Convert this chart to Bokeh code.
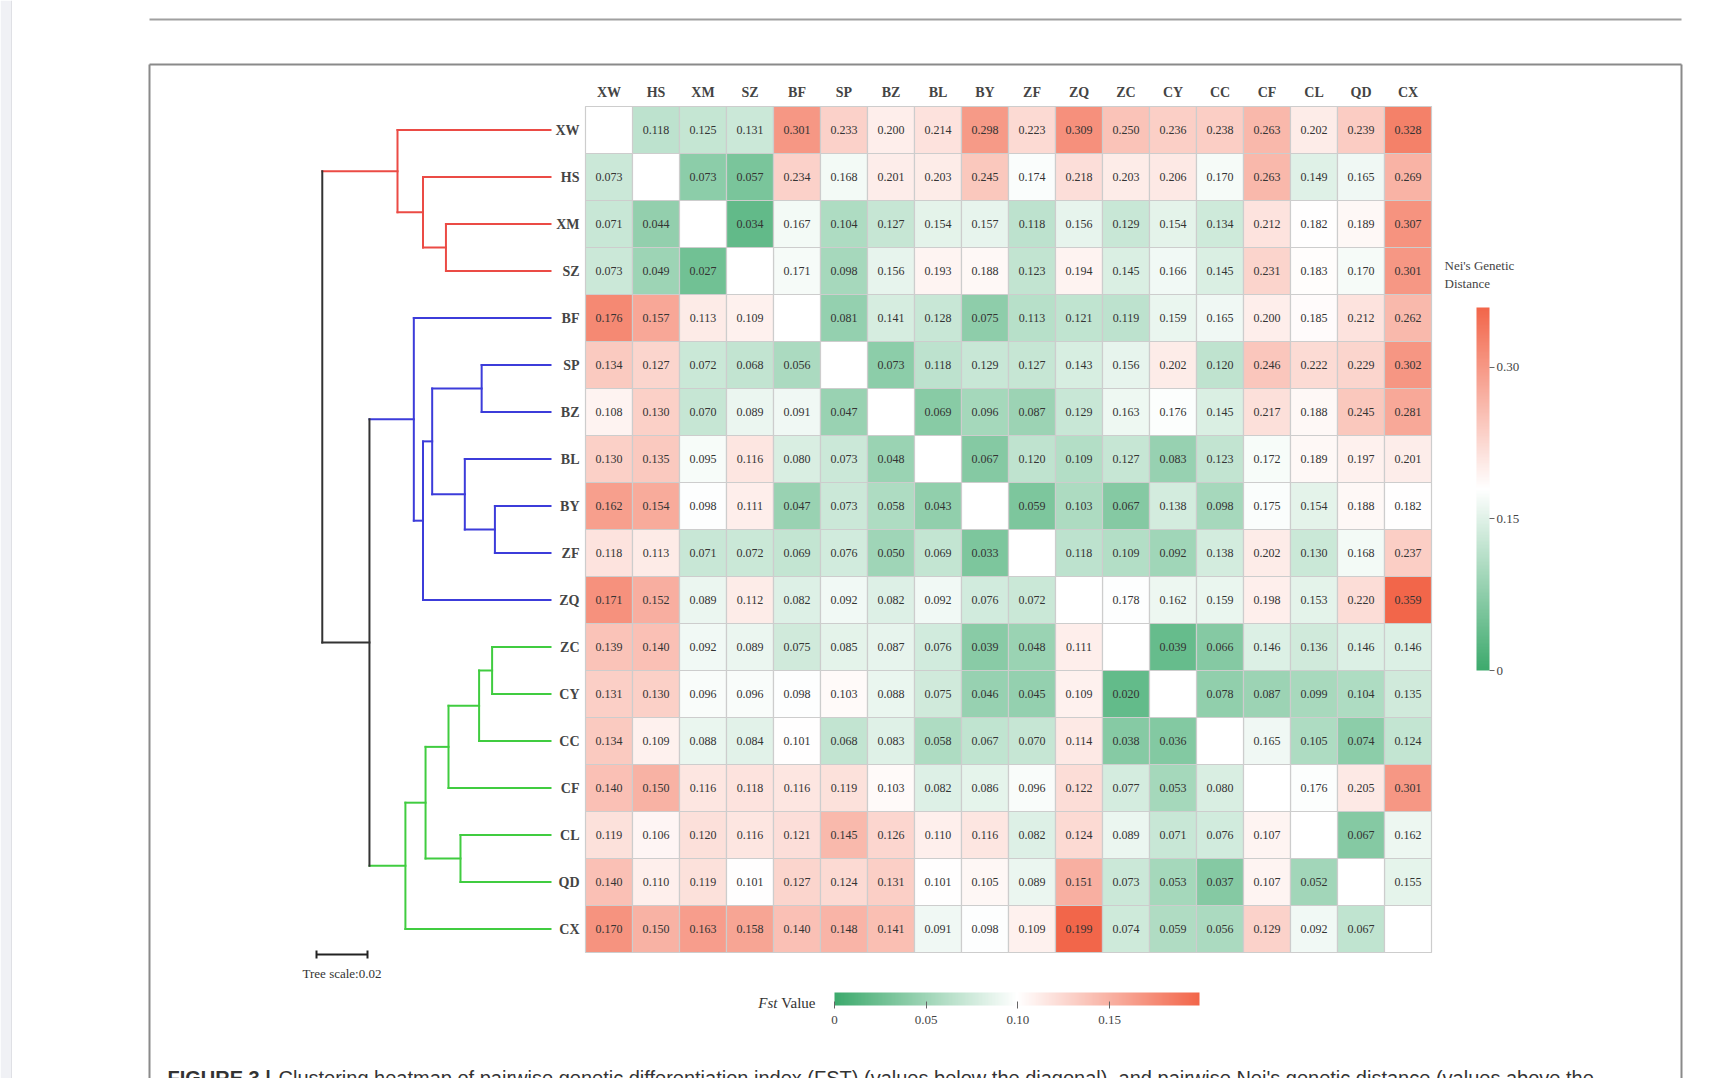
from bokeh.plotting import figure
from bokeh.models import (Range1d, ColumnDataSource, LinearColorMapper, ColorBar,
                          FixedTicker, CustomJSTickFormatter)
from bokeh.transform import transform
from bokeh.core.properties import value
from bokeh.embed import file_html
from bokeh.resources import INLINE

# ---------------- data ----------------
populations = ["XW", "HS", "XM", "SZ", "BF", "SP", "BZ", "BL", "BY", "ZF",
               "ZQ", "ZC", "CY", "CC", "CF", "CL", "QD", "CX"]

# lower triangle: pairwise Fst ; upper triangle: Nei's genetic distance
matrix = [
    [None, 0.118, 0.125, 0.131, 0.301, 0.233, 0.200, 0.214, 0.298, 0.223, 0.309, 0.250, 0.236, 0.238, 0.263, 0.202, 0.239, 0.328],
    [0.073, None, 0.073, 0.057, 0.234, 0.168, 0.201, 0.203, 0.245, 0.174, 0.218, 0.203, 0.206, 0.170, 0.263, 0.149, 0.165, 0.269],
    [0.071, 0.044, None, 0.034, 0.167, 0.104, 0.127, 0.154, 0.157, 0.118, 0.156, 0.129, 0.154, 0.134, 0.212, 0.182, 0.189, 0.307],
    [0.073, 0.049, 0.027, None, 0.171, 0.098, 0.156, 0.193, 0.188, 0.123, 0.194, 0.145, 0.166, 0.145, 0.231, 0.183, 0.170, 0.301],
    [0.176, 0.157, 0.113, 0.109, None, 0.081, 0.141, 0.128, 0.075, 0.113, 0.121, 0.119, 0.159, 0.165, 0.200, 0.185, 0.212, 0.262],
    [0.134, 0.127, 0.072, 0.068, 0.056, None, 0.073, 0.118, 0.129, 0.127, 0.143, 0.156, 0.202, 0.120, 0.246, 0.222, 0.229, 0.302],
    [0.108, 0.130, 0.070, 0.089, 0.091, 0.047, None, 0.069, 0.096, 0.087, 0.129, 0.163, 0.176, 0.145, 0.217, 0.188, 0.245, 0.281],
    [0.130, 0.135, 0.095, 0.116, 0.080, 0.073, 0.048, None, 0.067, 0.120, 0.109, 0.127, 0.083, 0.123, 0.172, 0.189, 0.197, 0.201],
    [0.162, 0.154, 0.098, 0.111, 0.047, 0.073, 0.058, 0.043, None, 0.059, 0.103, 0.067, 0.138, 0.098, 0.175, 0.154, 0.188, 0.182],
    [0.118, 0.113, 0.071, 0.072, 0.069, 0.076, 0.050, 0.069, 0.033, None, 0.118, 0.109, 0.092, 0.138, 0.202, 0.130, 0.168, 0.237],
    [0.171, 0.152, 0.089, 0.112, 0.082, 0.092, 0.082, 0.092, 0.076, 0.072, None, 0.178, 0.162, 0.159, 0.198, 0.153, 0.220, 0.359],
    [0.139, 0.140, 0.092, 0.089, 0.075, 0.085, 0.087, 0.076, 0.039, 0.048, 0.111, None, 0.039, 0.066, 0.146, 0.136, 0.146, 0.146],
    [0.131, 0.130, 0.096, 0.096, 0.098, 0.103, 0.088, 0.075, 0.046, 0.045, 0.109, 0.020, None, 0.078, 0.087, 0.099, 0.104, 0.135],
    [0.134, 0.109, 0.088, 0.084, 0.101, 0.068, 0.083, 0.058, 0.067, 0.070, 0.114, 0.038, 0.036, None, 0.165, 0.105, 0.074, 0.124],
    [0.140, 0.150, 0.116, 0.118, 0.116, 0.119, 0.103, 0.082, 0.086, 0.096, 0.122, 0.077, 0.053, 0.080, None, 0.176, 0.205, 0.301],
    [0.119, 0.106, 0.120, 0.116, 0.121, 0.145, 0.126, 0.110, 0.116, 0.082, 0.124, 0.089, 0.071, 0.076, 0.107, None, 0.067, 0.162],
    [0.140, 0.110, 0.119, 0.101, 0.127, 0.124, 0.131, 0.101, 0.105, 0.089, 0.151, 0.073, 0.053, 0.037, 0.107, 0.052, None, 0.155],
    [0.170, 0.150, 0.163, 0.158, 0.140, 0.148, 0.141, 0.091, 0.098, 0.109, 0.199, 0.074, 0.059, 0.056, 0.129, 0.092, 0.067, None],
]

# dendrogram merges: (child a, child b, node height); new nodes get ids 18, 19, ...
merges = [
    (2, 3, 0.0410), (1, 18, 0.0500), (0, 19, 0.0600),                      # 18-20 red
    (5, 6, 0.0270), (8, 9, 0.0218), (7, 22, 0.0336), (21, 23, 0.0464),
    (24, 10, 0.0500), (4, 25, 0.0536),                                     # 21-26 blue
    (11, 12, 0.0229), (27, 13, 0.0280), (28, 14, 0.0400), (15, 16, 0.0353),
    (29, 30, 0.0490), (31, 17, 0.0569),                                    # 27-32 green
    (26, 32, 0.0710), (20, 33, 0.0895),                                    # 33-34 root
]
leaf_clade_colors = ["#EB4B45"] * 4 + ["#3C3CDA"] * 7 + ["#40CC40"] * 7
tree_scale = 0.02

nei_ticks = [0, 0.15, 0.30]
fst_ticks = [0, 0.05, 0.10, 0.15]

# ---------------- layout helpers ----------------
W, H = 1726, 1078
CELL = 47.0
N = len(populations)
x_start = -585 / CELL
y_end = N + 106 / CELL


def X(sx):
    return x_start + sx / CELL


def Y(sy):
    return y_end - sy / CELL


TREE_PX = 51.0 / tree_scale   # pixels per unit of tree distance
TIP_SX = 550.0
t_start = TIP_SX / TREE_PX
t_end = t_start - W / TREE_PX

p = figure(width=W, height=H, output_backend="svg", toolbar_location=None,
           x_range=Range1d(x_start, x_start + W / CELL),
           y_range=Range1d(y_end - H / CELL, y_end),
           x_axis_location=None, y_axis_location=None, min_border=0)
p.extra_x_ranges = {"tree": Range1d(t_start, t_end)}
p.grid.visible = False
p.outline_line_color = None
p.background_fill_color = "white"
p.border_fill_color = "white"

SERIF = value("Liberation Serif")

# page decorations
p.quad(left=[X(0)], right=[X(11)], top=[Y(0)], bottom=[Y(1100)],
       fill_color="#f0f1f5", line_color=None)
p.segment(x0=[X(11)], y0=[Y(0)], x1=[X(11)], y1=[Y(1100)], line_color="#dfe0e5", line_width=1)
p.segment(x0=[X(149)], y0=[Y(19)], x1=[X(1681)], y1=[Y(19)], line_color="#a0a0a0", line_width=2)
p.segment(x0=[X(149), X(1681), X(149)], y0=[Y(64), Y(64), Y(64)],
          x1=[X(149), X(1681), X(1681)], y1=[Y(1100), Y(1100), Y(64)],
          line_color="#8a8a8a", line_width=2)

# ---------------- colour mappers ----------------


def interp(c1, c2, t):
    a = [int(c1[i:i + 2], 16) for i in (1, 3, 5)]
    b = [int(c2[i:i + 2], 16) for i in (1, 3, 5)]
    return "#%02x%02x%02x" % tuple(round(a[k] + (b[k] - a[k]) * t) for k in range(3))


GREEN, WHITE, RED = "#3DAA6D", "#FFFFFF", "#F2664A"
palette = [interp(GREEN, WHITE, i / 127) for i in range(128)] + \
          [interp(WHITE, RED, i / 127) for i in range(128)]

nei_vals = [matrix[i][j] for i in range(N) for j in range(N) if j > i]
fst_vals = [matrix[i][j] for i in range(N) for j in range(N) if j < i]
nei_mapper = LinearColorMapper(palette=palette, low=0, high=max(nei_vals))
fst_mapper = LinearColorMapper(palette=palette, low=0, high=max(fst_vals))

# ---------------- heatmap ----------------
up = dict(x=[], y=[], v=[], t=[])
lo = dict(x=[], y=[], v=[], t=[])
dg = dict(x=[], y=[])
for i in range(N):
    for j in range(N):
        v = matrix[i][j]
        if v is None:
            dg["x"].append(j + 0.5)
            dg["y"].append(N - 0.5 - i)
            continue
        d = up if j > i else lo
        d["x"].append(j + 0.5)
        d["y"].append(N - 0.5 - i)
        d["v"].append(v)
        d["t"].append("%.3f" % v)

src_up = ColumnDataSource(up)
src_lo = ColumnDataSource(lo)
p.rect(x="x", y="y", width=1, height=1, source=src_up,
       fill_color=transform("v", nei_mapper), line_color="#cdcdcd", line_width=1.2)
p.rect(x="x", y="y", width=1, height=1, source=src_lo,
       fill_color=transform("v", fst_mapper), line_color="#cdcdcd", line_width=1.2)
p.rect(x="x", y="y", width=1, height=1, source=ColumnDataSource(dg),
       fill_color="white", line_color="#cdcdcd", line_width=1.2)
for s in (src_up, src_lo):
    p.text(x="x", y="y", text="t", source=s, text_align="center", text_baseline="middle",
           text_font=SERIF, text_font_size="12px", text_color="#333333")

# column and row labels
p.text(x=[j + 0.5 for j in range(N)], y=[Y(92)] * N, text=populations,
       text_align="center", text_baseline="middle", text_font=SERIF,
       text_font_size="14px", text_font_style="bold", text_color="#444444")
p.text(x=[X(579)] * N, y=[N - 0.5 - i for i in range(N)], text=populations,
       text_align="right", text_baseline="middle", text_font=SERIF,
       text_font_size="14px", text_font_style="bold", text_color="#444444")

# ---------------- dendrogram ----------------
node_h = [0.0] * N
node_y = [N - 0.5 - i for i in range(N)]
node_c = list(leaf_clade_colors)
for a, b, h in merges:
    node_h.append(h)
    node_y.append((node_y[a] + node_y[b]) / 2)
    node_c.append(node_c[a] if node_c[a] == node_c[b] else "#333333")

seg = dict(x0=[], y0=[], x1=[], y1=[], c=[])
for k, (a, b, h) in enumerate(merges):
    nid = N + k
    for ch in (a, b):
        seg["x0"].append(node_h[nid]); seg["y0"].append(node_y[ch])
        seg["x1"].append(node_h[ch]); seg["y1"].append(node_y[ch])
        seg["c"].append(node_c[ch])
    seg["x0"].append(node_h[nid]); seg["y0"].append(node_y[a])
    seg["x1"].append(node_h[nid]); seg["y1"].append(node_y[b])
    seg["c"].append(node_c[nid])
p.segment(x0="x0", y0="y0", x1="x1", y1="y1", line_color="c", line_width=2,
          line_cap="square", source=ColumnDataSource(seg), x_range_name="tree")

# tree scale bar
sb_right = (TIP_SX - 367) / TREE_PX
sb_y = Y(954)
tick = 4 / CELL
p.segment(x0=[sb_right, sb_right, sb_right + tree_scale],
          y0=[sb_y, sb_y - tick, sb_y - tick],
          x1=[sb_right + tree_scale, sb_right, sb_right + tree_scale],
          y1=[sb_y, sb_y + tick, sb_y + tick],
          line_color="#222222", line_width=2, x_range_name="tree")
p.text(x=[sb_right + tree_scale / 2], y=[Y(973)], text=["Tree scale:%.2f" % tree_scale],
       text_align="center", text_baseline="middle", text_font=SERIF,
       text_font_size="13px", text_color="#333333", x_range_name="tree")

# ---------------- colour bars ----------------
fmt = CustomJSTickFormatter(code="return tick == 0 ? '0' : tick.toFixed(2);")
cb_nei = ColorBar(color_mapper=nei_mapper, orientation="vertical", width=13, height=363,
                  location=(1476, H - 670), padding=0, ticker=FixedTicker(ticks=nei_ticks),
                  formatter=fmt, major_label_text_font="Liberation Serif",
                  major_label_text_font_size="13px", major_label_text_color="#444444",
                  major_tick_in=0, major_tick_out=5, major_tick_line_color="#666666",
                  minor_tick_line_color=None, label_standoff=2, bar_line_color=None,
                  background_fill_alpha=0, border_line_color=None)
p.add_layout(cb_nei)
p.text(x=[X(1444)] * 2, y=[Y(265), Y(283)], text=["Nei's Genetic", "Distance"],
       text_align="left", text_baseline="middle", text_font=SERIF,
       text_font_size="13px", text_color="#444444")

cb_fst = ColorBar(color_mapper=fst_mapper, orientation="horizontal", width=365, height=13,
                  location=(834, H - 1026), padding=0, ticker=FixedTicker(ticks=fst_ticks),
                  formatter=fmt, major_label_text_font="Liberation Serif",
                  major_label_text_font_size="13px", major_label_text_color="#444444",
                  major_tick_in=4, major_tick_out=3, major_tick_line_color="#666666",
                  minor_tick_line_color=None, label_standoff=7, bar_line_color=None,
                  background_fill_alpha=0, border_line_color=None)
p.add_layout(cb_fst)
p.text(x=[X(815)], y=[Y(1002)], text=["Value"], text_align="right", text_baseline="middle",
       text_font=SERIF, text_font_size="15px", text_color="#333333")
p.text(x=[X(777)], y=[Y(1002)], text=["Fst"], text_align="right", text_baseline="middle",
       text_font=SERIF, text_font_size="15px", text_font_style="italic", text_color="#333333")

# caption (cut off by the window edge)
p.text(x=[X(167)], y=[Y(1077)], text=["FIGURE 3 |"], text_align="left", text_baseline="middle",
       text_font=value("Liberation Sans"), text_font_size="20px", text_font_style="bold",
       text_color="#333333")
p.text(x=[X(278)], y=[Y(1077)],
       text=["Clustering heatmap of pairwise genetic differentiation index (FST) (values below the diagonal), and pairwise Nei's genetic distance (values above the"],
       text_align="left", text_baseline="middle", text_font=value("Liberation Sans"),
       text_font_size="20px", text_color="#333333")

open("out.html", "w").write(file_html(p, INLINE))
